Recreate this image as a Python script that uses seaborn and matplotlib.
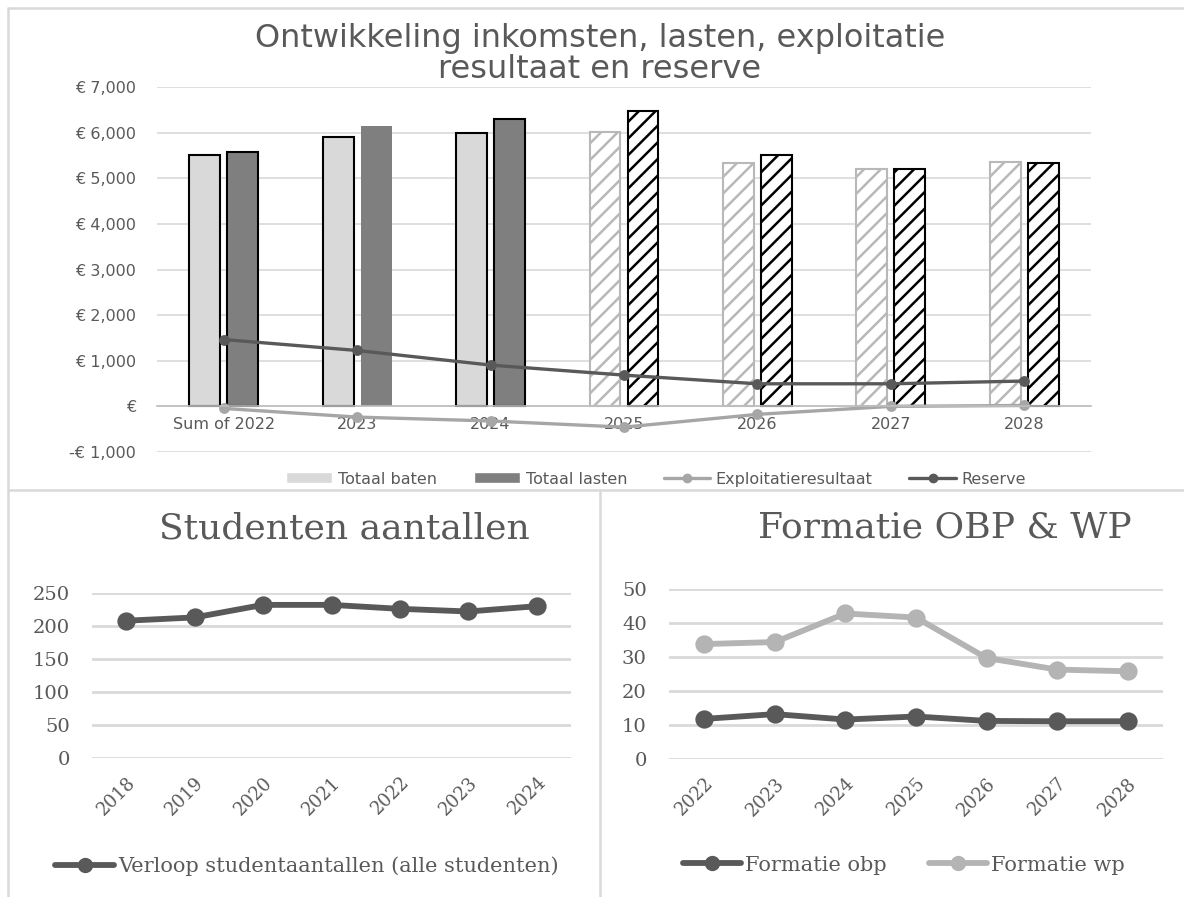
import pandas as pd
import matplotlib.pyplot as plt
import seaborn as sns
from matplotlib.lines import Line2D
from matplotlib.patches import Patch
from matplotlib.ticker import FuncFormatter, FixedLocator

# Data bovenste grafiek (x 1000 euro)
jaren_top = ['Sum of 2022', '2023', '2024', '2025', '2026', '2027', '2028']
totaal_baten = [5520, 5910, 5985, 6005, 5330, 5205, 5360]
totaal_lasten = [5570, 6140, 6305, 6465, 5510, 5205, 5330]
exploitatieresultaat = [-45, -235, -320, -455, -175, 0, 20]
reserve = [1465, 1225, 905, 685, 495, 495, 555]

# Studentenaantallen
jaren_stud = ['2018', '2019', '2020', '2021', '2022', '2023', '2024']
studenten = [208, 213, 232, 232, 226, 222, 230]

# Formatie
jaren_form = ['2022', '2023', '2024', '2025', '2026', '2027', '2028']
formatie_obp = [11.8, 13.2, 11.6, 12.5, 11.2, 11.1, 11.1]
formatie_wp = [33.8, 34.4, 42.8, 41.6, 29.7, 26.3, 25.8]

W, H = 1184, 897
sns.set_style('white')
plt.rcParams['font.family'] = ['DejaVu Sans']
plt.rcParams['hatch.linewidth'] = 1.8

TXT = '#595959'
GRID = '#d9d9d9'


def fx(x):
    return x / W


def fy(y):
    return 1 - y / H


fig = plt.figure(figsize=(W / 100, H / 100), dpi=100)

# ---------- bovenste grafiek ----------
ax = fig.add_axes([fx(157), fy(452), (1091 - 157) / W, (452 - 87) / H])
df = pd.DataFrame({
    'jaar': jaren_top * 2,
    'waarde': totaal_baten + totaal_lasten,
    'reeks': ['Totaal baten'] * 7 + ['Totaal lasten'] * 7,
})
sns.barplot(data=df, x='jaar', y='waarde', hue='reeks', palette=['#d9d9d9', '#7f7f7f'],
            width=0.57, gap=0.19, edgecolor='black', linewidth=1.5, legend=False, ax=ax)

# 2025 en later: prognose, gearceerd
baten_bars, lasten_bars = ax.containers[0], ax.containers[1]
lasten_bars[1].set_edgecolor('none')
for i in range(3, 7):
    b = baten_bars[i]
    b.set_facecolor('white')
    b.set_edgecolor('#b8b8b8')
    b.set_hatch('//')
    l = lasten_bars[i]
    l.set_facecolor('white')
    l.set_edgecolor('black')
    l.set_hatch('//')

sns.pointplot(x=jaren_top, y=exploitatieresultaat, color='#a6a6a6', errorbar=None,
              markersize=6, linewidth=2.4, ax=ax)
sns.pointplot(x=jaren_top, y=reserve, color='#595959', errorbar=None,
              markersize=6, linewidth=2.4, ax=ax)

ax.set_ylim(-1000, 7000)
ax.set_xlim(-0.5, 6.5)
ax.set_yticks(range(-1000, 7001, 1000))


def euro(v, pos):
    if v == 0:
        return '€'
    s = f'€ {abs(v):,.0f}'
    return '-' + s if v < 0 else s


ax.yaxis.set_major_formatter(FuncFormatter(euro))
ax.yaxis.grid(True, color=GRID, linewidth=1.2)
ax.set_axisbelow(True)
for s in ['left', 'right', 'top']:
    ax.spines[s].set_visible(False)
ax.spines['bottom'].set_position(('data', 0))
ax.spines['bottom'].set_color('#bfbfbf')
ax.spines['bottom'].set_linewidth(1.2)
ax.xaxis.set_minor_locator(FixedLocator([i - 0.5 for i in range(8)]))
ax.tick_params(axis='x', which='major', length=0, pad=8, labelsize=11.5, labelcolor=TXT)
ax.tick_params(axis='x', which='minor', length=5, color='#bfbfbf', width=1.2, direction='out')
ax.tick_params(axis='y', length=0, pad=15, labelsize=11.5, labelcolor=TXT)
ax.set_xlabel('')
ax.set_ylabel('')

fig.text(fx(600), fy(54), 'Ontwikkeling inkomsten, lasten, exploitatie\nresultaat en reserve',
         ha='center', va='center', fontsize=23, color=TXT, linespacing=1.02)

handles = [
    Patch(facecolor='#d9d9d9', label='Totaal baten'),
    Patch(facecolor='#7f7f7f', label='Totaal lasten'),
    Line2D([], [], color='#a6a6a6', lw=2.4, marker='o', ms=6, label='Exploitatieresultaat'),
    Line2D([], [], color='#595959', lw=2.4, marker='o', ms=6, label='Reserve'),
]
fig.legend(handles=handles, loc='center', bbox_to_anchor=(fx(656), fy(479)), ncol=4,
           frameon=False, fontsize=11.5, labelcolor=TXT, handlelength=2.9, handleheight=0.7,
           columnspacing=2.3, handletextpad=0.35)

# ---------- studentenaantallen ----------
serif = ['DejaVu Serif']
ax2 = fig.add_axes([fx(92), fy(758), (571 - 92) / W, (758 - 593) / H])
sns.pointplot(x=jaren_stud, y=studenten, color='#595959', errorbar=None,
              markersize=10, linewidth=4.2, ax=ax2)
ax2.set_ylim(0, 250)
ax2.set_yticks(range(0, 251, 50))

# ---------- formatie ----------
ax3 = fig.add_axes([fx(669), fy(759), (1163 - 669) / W, (759 - 589) / H])
sns.pointplot(x=jaren_form, y=formatie_wp, color='#b4b4b4', errorbar=None,
              markersize=10, linewidth=4.2, ax=ax3)
sns.pointplot(x=jaren_form, y=formatie_obp, color='#595959', errorbar=None,
              markersize=10, linewidth=4.2, ax=ax3)
ax3.set_ylim(0, 50)
ax3.set_yticks(range(0, 51, 10))

for a in (ax2, ax3):
    a.set_xlim(-0.5, 6.5)
    a.yaxis.grid(True, color=GRID, linewidth=2)
    a.set_axisbelow(True)
    sns.despine(ax=a, left=True, bottom=True)
    a.tick_params(axis='y', length=0, pad=16, labelsize=14, labelcolor=TXT)
    a.tick_params(axis='x', length=0, pad=11, labelsize=13, labelcolor=TXT)
    for lab in a.get_xticklabels():
        lab.set_rotation(45)
        lab.set_ha('right')
        lab.set_rotation_mode('anchor')
    for lab in a.get_xticklabels() + a.get_yticklabels():
        lab.set_family(serif)
    a.set_xlabel('')
    a.set_ylabel('')

fig.text(fx(344), fy(528), 'Studenten aantallen', ha='center', va='center',
         fontsize=26, color=TXT, family=serif)
fig.text(fx(945), fy(527), 'Formatie OBP & WP', ha='center', va='center',
         fontsize=26, color=TXT, family=serif)

h2 = [Line2D([], [], color='#595959', lw=4.2, marker='o', ms=10,
             label='Verloop studentaantallen (alle studenten)')]
fig.legend(handles=h2, loc='center', bbox_to_anchor=(fx(307), fy(866)), frameon=False,
           labelcolor=TXT, prop={'family': serif, 'size': 15},
           handlelength=2.8, handletextpad=0.2)
h3 = [Line2D([], [], color='#595959', lw=4.2, marker='o', ms=10, label='Formatie obp'),
      Line2D([], [], color='#b4b4b4', lw=4.2, marker='o', ms=10, label='Formatie wp')]
fig.legend(handles=h3, loc='center', bbox_to_anchor=(fx(904), fy(865)), ncol=2, frameon=False,
           labelcolor=TXT, prop={'family': serif, 'size': 15},
           handlelength=2.8, handletextpad=0.2, columnspacing=2.0)

# panelranden
for (x0, y0, x1, y1) in [(8, 8, W, 8), (8, 8, 8, H), (8, 490, W, 490), (600, 490, 600, H)]:
    fig.add_artist(Line2D([fx(x0), fx(x1)], [fy(y0), fy(y1)], color='#d9d9d9', lw=1.8))

fig.savefig('out.png', dpi=100, facecolor='white')
